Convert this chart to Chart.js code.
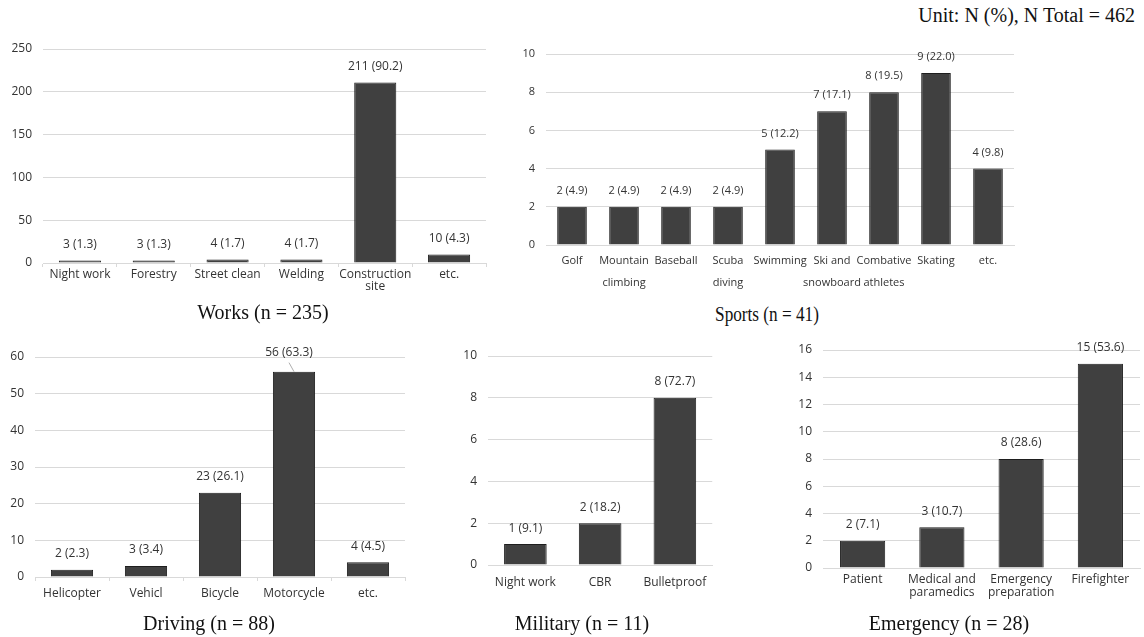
<!DOCTYPE html>
<html lang="en">

<head>
    <meta charset="utf-8" />
    <title>Cases by activity</title>
    <script src="https://cdn.jsdelivr.net/npm/chart.js@4.4.0/dist/chart.umd.min.js"></script>
    <style>
        body { margin: 0; background: #fff; }
        #page { position: relative; width: 1144px; height: 637px; overflow: hidden; }
        canvas { position: absolute; }
        .cap {
            position: absolute;
            font-family: "Liberation Serif", "Times New Roman", serif;
            font-size: 20px;
            line-height: 20px;
            color: #111;
            white-space: nowrap;
            transform: translate(-50%, -50%);
        }
        #unit { left: auto; right: 9px; top: 5px; transform: none; }
    </style>
</head>

<body>
    <div id="page">
        <div class="cap" id="unit">Unit: N (%), N Total = 462</div>

        <canvas id="works"></canvas>
        <canvas id="sports"></canvas>
        <canvas id="driving"></canvas>
        <canvas id="military"></canvas>
        <canvas id="emergency"></canvas>

        <div class="cap" id="worksCap" style="left:263px; top:312px;"></div>
        <div class="cap" id="sportsCap" style="left:767px; top:314px; transform:translate(-50%,-50%) scaleX(0.86);"></div>
        <div class="cap" id="drivingCap" style="left:209px; top:623px;"></div>
        <div class="cap" id="militaryCap" style="left:582px; top:623px;"></div>
        <div class="cap" id="emergencyCap" style="left:949px; top:623px;"></div>
    </div>

    <script>
        // ---- data ----
        const worksLabels = ["Night work", "Forestry", "Street clean", "Welding", ["Construction", "site"], "etc."];
        const worksCounts = [3, 3, 4, 4, 211, 10];
        const worksPct = [1.3, 1.3, 1.7, 1.7, 90.2, 4.3];

        const sportsLabels = ["Golf", ["Mountain", "climbing"], "Baseball", ["Scuba", "diving"], "Swimming",
            ["Ski and", "snowboard"], ["Combative", "athletes"], "Skating", "etc."];
        const sportsCounts = [2, 2, 2, 2, 5, 7, 8, 9, 4];
        const sportsPct = [4.9, 4.9, 4.9, 4.9, 12.2, 17.1, 19.5, 22.0, 9.8];

        const drivingLabels = ["Helicopter", "Vehicl", "Bicycle", "Motorcycle", "etc."];
        const drivingCounts = [2, 3, 23, 56, 4];
        const drivingPct = [2.3, 3.4, 26.1, 63.3, 4.5];

        const militaryLabels = ["Night work", "CBR", "Bulletproof"];
        const militaryCounts = [1, 2, 8];
        const militaryPct = [9.1, 18.2, 72.7];

        const emergencyLabels = ["Patient", ["Medical and", "paramedics"], ["Emergency", "preparation"], "Firefighter"];
        const emergencyCounts = [2, 3, 8, 15];
        const emergencyPct = [7.1, 10.7, 28.6, 53.6];

        const SANS = '"Open Sans", "Noto Sans", sans-serif';
        const INK = '#333333';
        const GRID = '#d9d9d9';

        // "n (pct)" above each bar
        const barValues = {
            id: 'barValues',
            afterDatasetsDraw(chart, args, opts) {
                const ctx = chart.ctx;
                const meta = chart.getDatasetMeta(0);
                const counts = chart.data.datasets[0].data;
                ctx.save();
                ctx.font = opts.size + 'px ' + SANS;
                ctx.fillStyle = INK;
                ctx.textAlign = 'center';
                ctx.textBaseline = 'middle';
                meta.data.forEach((bar, i) => {
                    const txt = counts[i] + ' (' + opts.pct[i].toFixed(1) + ')';
                    const raised = opts.raised === i;
                    const lift = raised ? 19 : 16;
                    const shift = raised ? -5 : 0;
                    ctx.fillText(txt, bar.x + shift, bar.y - lift);
                    if (raised) {
                        ctx.strokeStyle = '#999';
                        ctx.lineWidth = 0.8;
                        ctx.beginPath();
                        ctx.moveTo(bar.x + shift, bar.y - lift + 10);
                        ctx.lineTo(bar.x, bar.y);
                        ctx.stroke();
                    }
                });
                ctx.restore();
            }
        };

        let makeChart = (id, area, o) => {
            const yw = 45, padTop = 24, padRight = 4, xh = 44;
            const cv = document.getElementById(id);
            cv.width = area.r - area.l + yw + padRight;
            cv.height = area.b - area.t + padTop + xh;
            cv.style.left = (area.l - yw) + 'px';
            cv.style.top = (area.t - padTop) + 'px';

            return new Chart(cv, {
                type: 'bar',
                data: {
                    labels: o.labels,
                    datasets: [{
                        data: o.counts,
                        backgroundColor: '#404040',
                        borderColor: '#1e1e1e',
                        borderWidth: 1,
                        barPercentage: 0.57,
                        categoryPercentage: 1
                    }]
                },
                options: {
                    responsive: false,
                    animation: false,
                    layout: { padding: { top: padTop, right: padRight, left: 0, bottom: 0 } },
                    plugins: {
                        legend: { display: false },
                        tooltip: { enabled: false },
                        barValues: { pct: o.pct, size: o.size, raised: o.raised }
                    },
                    scales: {
                        x: {
                            grid: {
                                display: o.xTicks,
                                drawTicks: o.xTicks,
                                drawOnChartArea: false,
                                tickLength: 4,
                                color: GRID,
                                offset: true
                            },
                            border: { display: true, color: GRID },
                            ticks: {
                                font: { family: SANS, size: o.size, lineHeight: o.lh },
                                color: INK,
                                padding: o.xPad,
                                maxRotation: 0,
                                autoSkip: false
                            },
                            afterFit: (s) => { s.height = xh; }
                        },
                        y: {
                            min: 0,
                            max: o.max,
                            ticks: {
                                stepSize: o.step,
                                font: { family: SANS, size: o.size },
                                color: INK,
                                padding: 11
                            },
                            grid: { color: GRID, drawTicks: false },
                            border: { display: false },
                            afterFit: (s) => { s.width = yw; }
                        }
                    }
                },
                plugins: [barValues]
            });
        };

        let sum = (a) => a.reduce((p, c) => p + c, 0);

        document.getElementById('worksCap').textContent = 'Works (n = ' + sum(worksCounts) + ')';
        document.getElementById('sportsCap').textContent = 'Sports (n = ' + sum(sportsCounts) + ')';
        document.getElementById('drivingCap').textContent = 'Driving (n = ' + sum(drivingCounts) + ')';
        document.getElementById('militaryCap').textContent = 'Military (n = ' + sum(militaryCounts) + ')';
        document.getElementById('emergencyCap').textContent = 'Emergency (n = ' + sum(emergencyCounts) + ')';

        makeChart('works', { l: 43, t: 49, r: 486, b: 263 }, {
            labels: worksLabels, counts: worksCounts, pct: worksPct,
            max: 250, step: 50, size: 12, lh: 1.0, xTicks: true, xPad: 2
        });
        makeChart('sports', { l: 546, t: 54, r: 1014, b: 245 }, {
            labels: sportsLabels, counts: sportsCounts, pct: sportsPct,
            max: 10, step: 2, size: 11, lh: 2.0, xTicks: false, xPad: 5
        });
        makeChart('driving', { l: 35, t: 357, r: 405, b: 577 }, {
            labels: drivingLabels, counts: drivingCounts, pct: drivingPct,
            max: 60, step: 10, size: 12, lh: 1.2, xTicks: true, xPad: 5, raised: 3
        });
        makeChart('military', { l: 488, t: 356, r: 713, b: 565 }, {
            labels: militaryLabels, counts: militaryCounts, pct: militaryPct,
            max: 10, step: 2, size: 12, lh: 1.2, xTicks: false, xPad: 10
        });
        makeChart('emergency', { l: 823, t: 350, r: 1140, b: 568 }, {
            labels: emergencyLabels, counts: emergencyCounts, pct: emergencyPct,
            max: 16, step: 2, size: 12, lh: 1.08, xTicks: false, xPad: 5
        });
    </script>
</body>

</html>
